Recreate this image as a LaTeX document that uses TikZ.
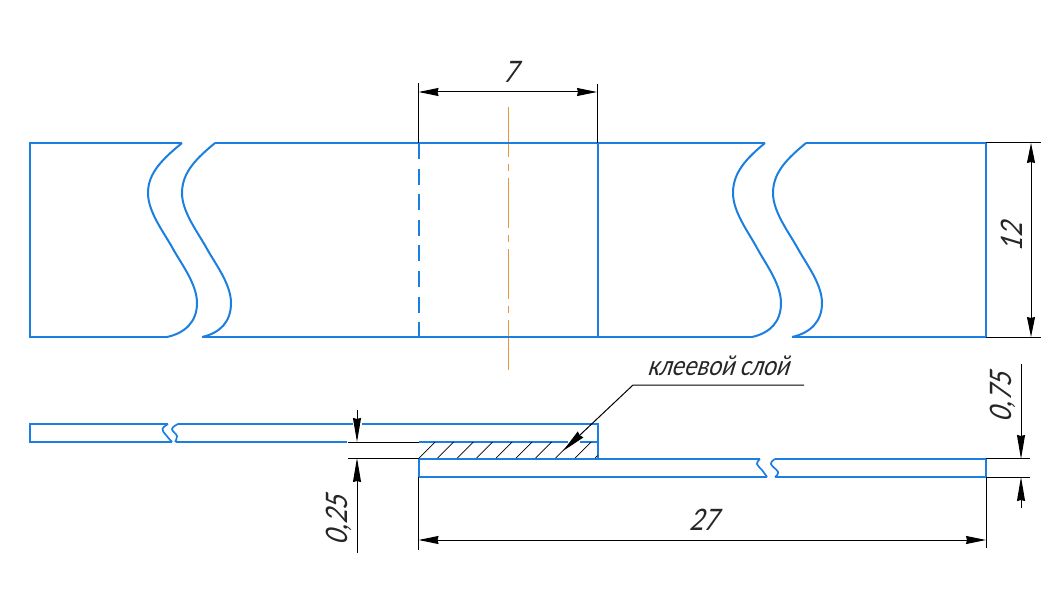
\documentclass[tikz,border=0pt]{standalone}
\usepackage{fontspec}
\usetikzlibrary{arrows.meta}
\newfontfamily\gostfont[FakeSlant=0.3,FakeStretch=0.85]{Carlito}
\definecolor{partblue}{HTML}{1A7FE0}
\definecolor{axisorange}{HTML}{E8963C}
\tikzset{
  part/.style={draw=partblue,line width=2.3pt},
  thinline/.style={draw=black,line width=1pt},
  dimline/.style={thinline,{Stealth[length=20pt,width=8pt,inset=1pt]}-{Stealth[length=20pt,width=8pt,inset=1pt]}},
  axisline/.style={draw=axisorange,line width=1pt,dash pattern=on 50pt off 7pt on 7pt off 7pt},
  hatchline/.style={draw=black,line width=.7pt},
  dimtext/.style={font=\gostfont\fontsize{33}{33}\selectfont,text=black!85,inner sep=0pt},
  leadtext/.style={font=\gostfont\fontsize{29}{29}\selectfont,text=black!85,inner sep=0pt},
}
\newcommand{\brk}[4]{% top x, min x, max x, bottom x
  \draw[part,line width=2pt] (#1,143) .. controls ({#1-18},158) and (#2,172) .. (#2,193)
    .. controls (#2,212) and ({#2+.32*(#3-#2)},232) .. ({#2+.5*(#3-#2)},248)
    .. controls ({#2+.68*(#3-#2)},264) and (#3,284) .. (#3,303)
    .. controls (#3,322) and ({#4+18},333) .. (#4,337);}
\begin{document}
\begin{tikzpicture}[x=1pt,y=-1pt]
\useasboundingbox (0,0) rectangle (1061,615);
% axis
\coordinate (axT) at (508,107); \coordinate (axB) at (508,370);
\draw[axisline] (axT) -- (axB);
% plan view
\draw[part] (182,143) -- (30,143) -- (30,337) -- (167,337);
\draw[part] (215,143) -- (765,143);
\draw[part] (202,337) -- (752,337);
\draw[part] (806,143) -- (986,143) -- (986,337) -- (792,337);
\draw[part] (598,143) -- (598,337);
\draw[part,dash pattern=on 16pt off 9.6pt] (419,143) -- (419,337);
\brk{182}{148}{197}{167}
\brk{215}{182}{231}{202}
\brk{765}{733}{781}{752}
\brk{806}{773}{822}{792}
% section: upper plate
\draw[part] (168,424) -- (30,424) -- (30,442) -- (172,442);
\draw[part] (178,424) -- (353,424);
\draw[part] (362,424) -- (598,424) -- (598,459);
\draw[part] (176,442) -- (347,442);
\draw[part] (419,442) -- (568,442);
\draw[part] (580,442) -- (598,442);
\draw[part,line width=1.7pt] plot[smooth,tension=.7] coordinates {(168,424) (162.5,429) (166,435) (172,442)};
\draw[part,line width=1.7pt] plot[smooth,tension=.7] coordinates {(178,424) (172,429) (177,436) (175,442)};
% section: lower plate
\draw[part] (760,459) -- (419,459) -- (419,477) -- (767,477);
\draw[part] (775,459) -- (986,459) -- (986,477) -- (775,477);
\draw[part,line width=1.7pt] plot[smooth,tension=.7] coordinates {(760,459) (757,464) (762,470) (767,477)};
\draw[part,line width=1.7pt] plot[smooth,tension=.7] coordinates {(775,459) (771,464) (778,472) (775,477)};
% hatching
\foreach \xb in {419,437.5,457.3,476.7,496,516,535.7,555.7,575}
  \draw[hatchline] (\xb,458) -- ++(16,-16);
\draw[hatchline] (595,458) -- (597.5,455.5);
% dimension 7
\coordinate (d7a) at (418.5,92); \coordinate (d7b) at (597,92);
\draw[thinline] (418.5,83) -- (418.5,143);
\draw[thinline] (597,84) -- (597,143);
\draw[dimline] (d7a) -- (d7b);
\node[dimtext] (t7) at (510,72) {7};
% dimension 12
\coordinate (d12a) at (1031,143); \coordinate (d12b) at (1031,337);
\draw[thinline] (986,142.5) -- (1041,142.5);
\draw[thinline] (986,337) -- (1041,337);
\draw[dimline] (d12a) -- (d12b);
\node[dimtext,rotate=90] (t12) at (1012,238) {12};
% dimension 0,75
\coordinate (d75a) at (1021,364); \coordinate (d75t) at (1021,459);
\coordinate (d75u) at (1021,477); \coordinate (d75b) at (1021,508);
\draw[thinline] (986,458.5) -- (1030,458.5);
\draw[thinline] (986,477) -- (1030,477);
\draw[thinline,-{Stealth[length=24pt,width=8pt,inset=1pt]}] (d75a) -- (d75t);
\draw[thinline,-{Stealth[length=24pt,width=8pt,inset=1pt]}] (d75b) -- (d75u);
\node[dimtext,rotate=90] (t075) at (1003,398) {0,75};
% dimension 27
\coordinate (d27a) at (418.5,540); \coordinate (d27b) at (986,540);
\draw[thinline] (418.5,477) -- (418.5,550);
\draw[thinline] (986,477) -- (986,548);
\draw[dimline] (d27a) -- (d27b);
\node[dimtext] (t27) at (703,520) {27};
% dimension 0,25
\coordinate (d25a) at (357,410); \coordinate (d25t) at (357,442);
\coordinate (d25u) at (357,458); \coordinate (d25b) at (357,553);
\draw[thinline] (348,442) -- (419,442);
\draw[thinline] (348,458) -- (419,458);
\draw[thinline,-{Stealth[length=24pt,width=8pt,inset=1pt]}] (d25a) -- (d25t);
\draw[thinline,-{Stealth[length=24pt,width=8pt,inset=1pt]}] (d25b) -- (d25u);
\node[dimtext,rotate=90] (t025) at (339,521) {0,25};
% leader
\coordinate (ldTip) at (563,451); \coordinate (ldKnee) at (633,385); \coordinate (ldEnd) at (804,385);
\draw[thinline,{Stealth[length=24pt,width=8pt,inset=1pt]}-] (ldTip) -- (ldKnee) -- (ldEnd);
\node[leadtext,anchor=base] (tlead) at (718,375) {клеевой слой};
\end{tikzpicture}
\end{document}
